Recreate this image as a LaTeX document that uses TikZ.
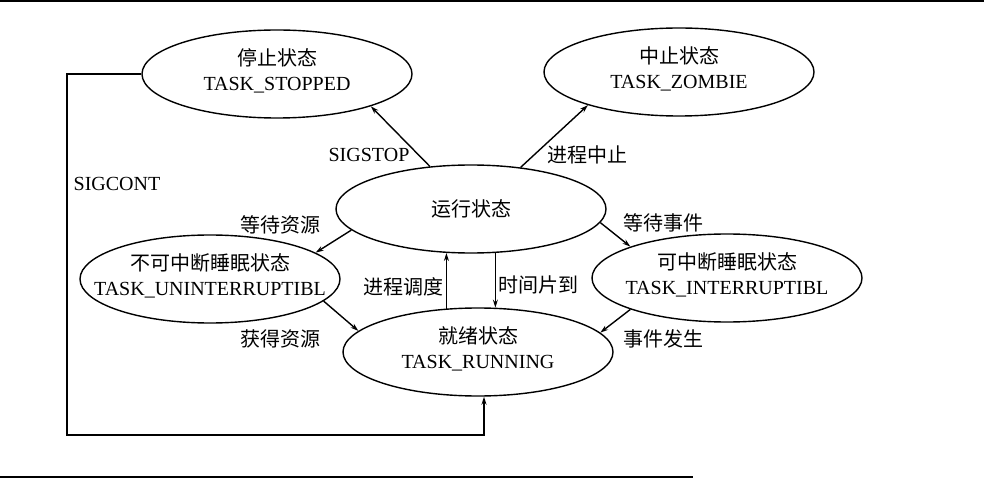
\documentclass[tikz,border=0pt]{standalone}
\usepackage{fontspec}
\setmainfont{Liberation Serif}
\newfontfamily\cjk{Noto Sans CJK SC}
\usetikzlibrary{shapes.geometric,arrows.meta,positioning}

\tikzset{
  state/.style={draw, ellipse, line width=1.4pt, minimum width=270pt, minimum height=88pt, inner sep=0pt},
  statetext/.style={align=center, font=\fontsize{20}{25}\selectfont, yshift=3pt},
  lbl/.style={font=\fontsize{20}{24}\selectfont, inner sep=0pt},
  arr/.style={line width=1.4pt, -{Stealth[length=8pt,width=5pt]}}
}

\begin{document}
\begin{tikzpicture}[x=1pt,y=-1pt]
  \useasboundingbox (0,0) rectangle (984,478);
  \draw[line width=2pt] (0,1) -- (984,1);
  \draw[line width=2pt] (0,477) -- (693,477);

  % states
  \node[state, label={[statetext]center:{{\cjk 停止状态}\\TASK\_STOPPED}}] (stopped) at (277,74) {};
  \node[state, label={[statetext]center:{{\cjk 中止状态}\\TASK\_ZOMBIE}}] (zombie) at (679,72) {};
  \node[state, label={[statetext, yshift=-3pt]center:{\cjk 运行状态}}] (running) at (471,209) {};
  \node[state, minimum width=260pt, label={[statetext]center:{{\cjk 不可中断睡眠状态}\\TASK\_UNINTERRUPTIBL}}] (unint) at (210,279) {};
  \node[state, label={[statetext]center:{{\cjk 可中断睡眠状态}\\TASK\_INTERRUPTIBL}}] (inter) at (727,278) {};
  \node[state, label={[statetext]center:{{\cjk 就绪状态}\\TASK\_RUNNING}}] (ready) at (478,352) {};

  % transitions
  \draw[arr] (running.134) -- (stopped.-19);
  \draw[arr] (running.40) -- (zombie.-160);
  \draw[arr] (running.190) -- (unint.14);
  \draw[arr] (unint.-11) -- (ready.170);
  \draw[arr] (running.-6) -- (inter.162);
  \draw[arr] (inter.198) -- (ready.9);
  \draw[arr] (ready.126) -- (ready.126 |- running.241);
  \draw[arr] (running.-61) -- (running.-61 |- ready.69);
  \coordinate (cornerL) at (67,435);
  \draw[arr] (stopped.west) -| (cornerL) -| ([xshift=6pt]ready.south);

  % labels
  \node[lbl] (lstop) at (369,155) {SIGSTOP};
  \node[lbl] (lexit) at (587,155) {\cjk 进程中止};
  \node[lbl] (lcont) at (117,184) {SIGCONT};
  \node[lbl] (lwaitres) at (280,225) {\cjk 等待资源};
  \node[lbl] (lgetres) at (280,339) {\cjk 获得资源};
  \node[lbl] (lsched) at (403,287) {\cjk 进程调度};
  \node[lbl] (lslice) at (538,285) {\cjk 时间片到};
  \node[lbl] (lwaitev) at (663,223) {\cjk 等待事件};
  \node[lbl] (levent) at (663,339) {\cjk 事件发生};
\end{tikzpicture}
\end{document}
